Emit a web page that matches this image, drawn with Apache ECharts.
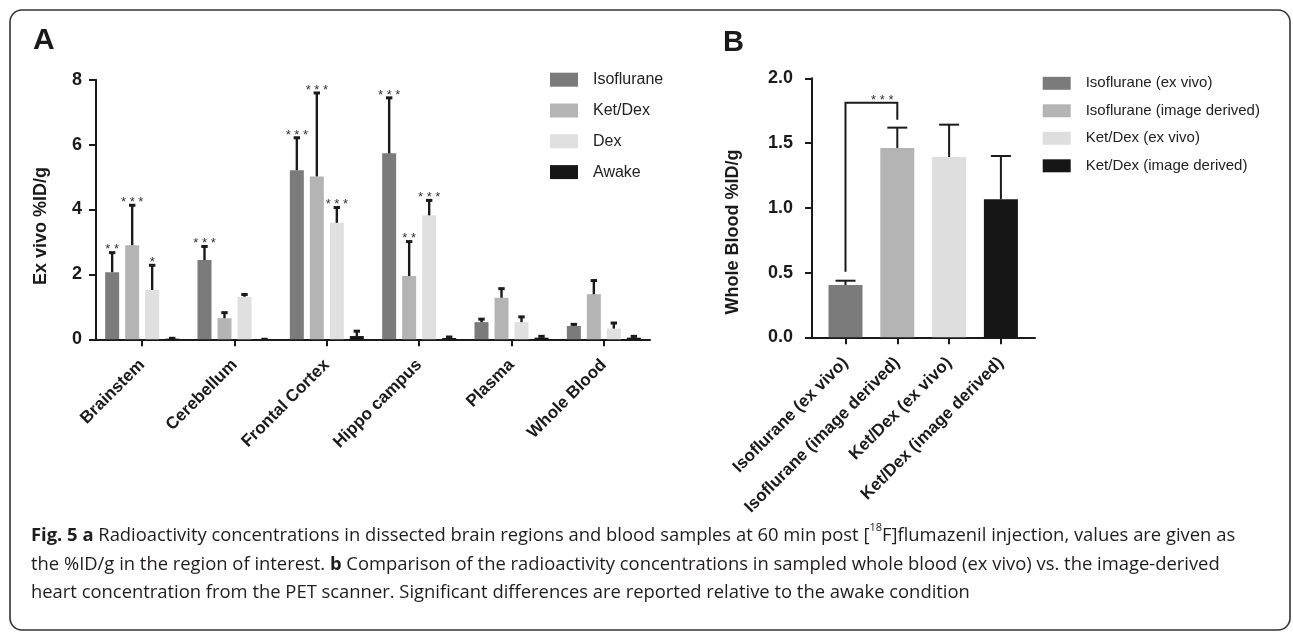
<!DOCTYPE html>
<html><head><meta charset="utf-8">
<script src="https://cdn.jsdelivr.net/npm/echarts@6/dist/echarts.min.js"></script>
<style>html,body{margin:0;padding:0;background:#fff}#c{width:1293px;height:634px}</style>
</head><body><div id="c"></div>
<script>
// ---------- Panel A data ----------
const regions = ['Brainstem', 'Cerebellum', 'Frontal Cortex', 'Hippo campus', 'Plasma', 'Whole Blood'];
const groupNames = ['Isoflurane', 'Ket/Dex', 'Dex', 'Awake'];
const isofluraneMean = [2.07, 2.44, 5.21, 5.73, 0.53, 0.41];
const isofluraneSD   = [0.61, 0.43, 1.01, 1.72, 0.10, 0.06];
const ketDexMean     = [2.90, 0.65, 5.02, 1.95, 1.28, 1.39];
const ketDexSD       = [1.24, 0.18, 2.58, 1.07, 0.29, 0.43];
const dexMean        = [1.52, 1.31, 3.59, 3.82, 0.53, 0.33];
const dexSD          = [0.77, 0.08, 0.48, 0.47, 0.17, 0.18];
const awakeMean      = [0.02, 0.01, 0.10, 0.04, 0.05, 0.05];
const awakeSD        = [0.02, 0.00, 0.16, 0.04, 0.05, 0.05];
const isofluraneSig  = ['**', '***', '***', '***', '', ''];
const ketDexSig      = ['***', '', '***', '**', '', ''];
const dexSig         = ['*', '', '***', '***', '', ''];
const awakeSig       = ['', '', '', '', '', ''];
const yTicksA = [0, 2, 4, 6, 8];

// ---------- Panel B data ----------
const bloodCats = ['Isoflurane (ex vivo)', 'Isoflurane (image derived)', 'Ket/Dex (ex vivo)', 'Ket/Dex (image derived)'];
const bloodMean = [0.404, 1.462, 1.392, 1.066];
const bloodSD   = [0.033, 0.157, 0.250, 0.334];
const bracketPair = [0, 1];
const bracketSig = '***';
const yTicksB = [0, 0.5, 1.0, 1.5, 2.0];

// ---------- text ----------
const yTitleA = 'Ex vivo %ID/g';
const yTitleB = 'Whole Blood %ID/g';
const captionLines = [
  '{b|Fig. 5 a} Radioactivity concentrations in dissected brain regions and blood samples at 60 min post [{sup|18}F]flumazenil injection, values are given as',
  'the %ID/g in the region of interest. {b|b} Comparison of the radioactivity concentrations in sampled whole blood (ex vivo) vs. the image-derived',
  'heart concentration from the PET scanner. Significant differences are reported relative to the awake condition'
];

// ---------- styles ----------
const FONT = '"Liberation Sans", Arial, sans-serif';
const CAP_FONT = '"Open Sans", sans-serif';
const INK = '#1a1a1a';
const colorsA = ['#7b7b7b', '#b4b4b4', '#e0e0e0', '#161616'];
const colorsB = ['#7b7b7b', '#b4b4b4', '#dedede', '#161616'];
const BAR_A = 14, GAP_A = 6;

const meansA = [isofluraneMean, ketDexMean, dexMean, awakeMean];
const sdsA = [isofluraneSD, ketDexSD, dexSD, awakeSD];
const sigsA = [isofluraneSig, ketDexSig, dexSig, awakeSig];

function spaced(s) { return s.split('').join(' '); }

function errA(g) {
  return function (params, api) {
    const i = api.value(0);
    const base = api.coord([i, api.value(1)]);
    const top = api.coord([i, api.value(2)]);
    const x = base[0] + (g - 1.5) * (BAR_A + GAP_A);
    const ch = [];
    if (api.value(2) > api.value(1)) {
      ch.push({ type: 'line', shape: { x1: x, y1: base[1], x2: x, y2: top[1] + 1 }, style: { stroke: INK, lineWidth: 2.4 } });
    }
    ch.push({ type: 'rect', shape: { x: x - 3.2, y: top[1] - 1.2, width: 6.4, height: 3 }, style: { fill: INK } });
    const s = sigsA[g][params.dataIndex];
    if (s) {
      ch.push({ type: 'text', style: { text: spaced(s), x: x, y: top[1] + 4, align: 'center', verticalAlign: 'bottom', font: '13px ' + FONT, fill: '#333' } });
    }
    return { type: 'group', children: ch };
  };
}

const series = [];
groupNames.forEach(function (name, g) {
  series.push({
    name: name, type: 'bar', xAxisIndex: 0, yAxisIndex: 0,
    barWidth: BAR_A, barGap: (GAP_A / BAR_A * 100) + '%',
    itemStyle: { color: colorsA[g] },
    data: meansA[g], animation: false
  });
});
groupNames.forEach(function (name, g) {
  series.push({
    type: 'custom', xAxisIndex: 0, yAxisIndex: 0, z: 5,
    renderItem: errA(g), encode: { x: 0, y: 1 },
    data: regions.map(function (r, i) { return [i, meansA[g][i], meansA[g][i] + sdsA[g][i]]; }),
    animation: false, silent: true
  });
});
bloodCats.forEach(function (name, k) {
  series.push({
    name: name, type: 'bar', xAxisIndex: 1, yAxisIndex: 1,
    barWidth: 34, barGap: '-100%',
    itemStyle: { color: colorsB[k] },
    data: bloodCats.map(function (c, j) { return j === k ? bloodMean[k] : '-'; }),
    animation: false
  });
});
series.push({
  type: 'custom', xAxisIndex: 1, yAxisIndex: 1, z: 5, encode: { x: 0, y: 1 },
  data: bloodCats.map(function (c, j) { return [j, bloodMean[j], bloodMean[j] + bloodSD[j]]; }),
  renderItem: function (params, api) {
    const i = api.value(0);
    const base = api.coord([i, api.value(1)]);
    const top = api.coord([i, api.value(2)]);
    return { type: 'group', children: [
      { type: 'line', shape: { x1: base[0], y1: base[1], x2: base[0], y2: top[1] }, style: { stroke: INK, lineWidth: 2 } },
      { type: 'line', shape: { x1: base[0] - 10, y1: top[1], x2: base[0] + 10, y2: top[1] }, style: { stroke: INK, lineWidth: 2 } }
    ] };
  },
  animation: false, silent: true
});
series.push({
  type: 'custom', xAxisIndex: 1, yAxisIndex: 1, z: 5, encode: { x: 0, y: 1 },
  data: [[bracketPair[0], bracketPair[1]]],
  renderItem: function (params, api) {
    const a = bracketPair[0], b = bracketPair[1];
    const p0 = api.coord([a, bloodMean[a] + bloodSD[a]]);
    const p1 = api.coord([b, bloodMean[b] + bloodSD[b]]);
    const topY = Math.min(p0[1], p1[1]) - 25;
    return { type: 'group', children: [
      { type: 'polyline', shape: { points: [[p0[0], p0[1] - 9], [p0[0], topY], [p1[0], topY], [p1[0], p1[1] - 8]] }, style: { stroke: INK, lineWidth: 2, fill: null } },
      { type: 'text', style: { text: spaced(bracketSig), x: p1[0] - 15, y: topY + 4, align: 'center', verticalAlign: 'bottom', font: '13px ' + FONT, fill: '#333' } }
    ] };
  },
  animation: false, silent: true
});

const axisLine = { show: true, lineStyle: { color: INK, width: 2 } };
const axisTick = { show: true, length: 7, lineStyle: { color: INK, width: 2 } };

const option = {
  animation: false,
  backgroundColor: '#ffffff',
  grid: [
    { left: 96, top: 79.7, width: 554, height: 259.6 },
    { left: 819.6, top: 78.3, width: 207.2, height: 259 },
    { left: 812, top: 78.3, width: 223, height: 259 }
  ],
  xAxis: [
    { gridIndex: 0, type: 'category', data: regions, axisLine: axisLine,
      axisTick: Object.assign({ alignWithLabel: true }, axisTick),
      axisLabel: { rotate: 45, margin: 23, interval: 0, fontSize: 17, fontWeight: 'bold', color: INK, fontFamily: FONT } },
    { gridIndex: 1, type: 'category', data: bloodCats, axisLine: { show: false },
      axisTick: Object.assign({ alignWithLabel: true }, axisTick),
      axisLabel: { rotate: 45, margin: 23, interval: 0, fontSize: 17, fontWeight: 'bold', color: INK, fontFamily: FONT } },
    { gridIndex: 2, type: 'value', min: 0, max: 1, axisLine: axisLine, axisTick: { show: false },
      axisLabel: { show: false }, splitLine: { show: false } }
  ],
  yAxis: [
    { gridIndex: 0, type: 'value', min: yTicksA[0], max: yTicksA[yTicksA.length - 1], interval: yTicksA[1] - yTicksA[0],
      axisLine: axisLine, axisTick: axisTick, splitLine: { show: false },
      axisLabel: { margin: 14, fontSize: 18, fontWeight: 'bold', color: INK, fontFamily: FONT } },
    { gridIndex: 1, type: 'value', min: yTicksB[0], max: yTicksB[yTicksB.length - 1], interval: yTicksB[1] - yTicksB[0], offset: 7.6,
      axisLine: axisLine, axisTick: axisTick, splitLine: { show: false },
      axisLabel: { margin: 19, fontSize: 18, fontWeight: 'bold', color: INK, fontFamily: FONT, formatter: function (v) { return v.toFixed(1); } } },
    { gridIndex: 2, type: 'value', min: 0, max: 1, show: false }
  ],
  legend: [
    { data: groupNames, orient: 'vertical', left: 550, top: 71.7, padding: 0, itemWidth: 28, itemHeight: 14, itemGap: 14.8,
      icon: 'rect', selectedMode: false,
      textStyle: { fontSize: 16, color: '#222', fontFamily: FONT, padding: [0, 0, 0, 10] } },
    { data: bloodCats, orient: 'vertical', left: 1042.7, top: 75.8, padding: 0, itemWidth: 28, itemHeight: 13, itemGap: 12.5,
      icon: 'rect', selectedMode: false,
      textStyle: { fontSize: 15, color: '#222', fontFamily: FONT, padding: [0, 0, 0, 10] } }
  ],
  graphic: [
    { type: 'rect', shape: { x: 10, y: 10, width: 1280, height: 620, r: 12 }, style: { fill: null, stroke: '#333', lineWidth: 1.6 }, z: 0 },
    { type: 'text', x: 33, y: 41, style: { text: 'A', font: 'bold 30px ' + FONT, fill: INK, align: 'left', verticalAlign: 'middle' } },
    { type: 'text', x: 723, y: 43, style: { text: 'B', font: 'bold 29px ' + FONT, fill: INK, align: 'left', verticalAlign: 'middle' } },
    { type: 'text', x: 41, y: 226, rotation: Math.PI / 2, style: { text: yTitleA, font: 'bold 18px ' + FONT, fill: INK, align: 'center', verticalAlign: 'middle' } },
    { type: 'text', x: 733, y: 232, rotation: Math.PI / 2, style: { text: yTitleB, font: 'bold 18px ' + FONT, fill: INK, align: 'center', verticalAlign: 'middle' } },
    { type: 'text', x: 31, y: 522, style: {
        text: captionLines.join('\n'),
        fontFamily: CAP_FONT, fontSize: 18.4, lineHeight: 28.5, fill: '#1f1c1d',
        rich: {
          b: { fontFamily: CAP_FONT, fontSize: 18.4, fontWeight: 'bold', lineHeight: 28.5, fill: '#1f1c1d' },
          sup: { fontFamily: CAP_FONT, fontSize: 11, lineHeight: 18, verticalAlign: 'top', fill: '#1f1c1d' }
        } } }
  ],
  series: series
};

const chart = echarts.init(document.getElementById('c'), null, { renderer: 'canvas' });
chart.setOption(option);
</script>
</body></html>
